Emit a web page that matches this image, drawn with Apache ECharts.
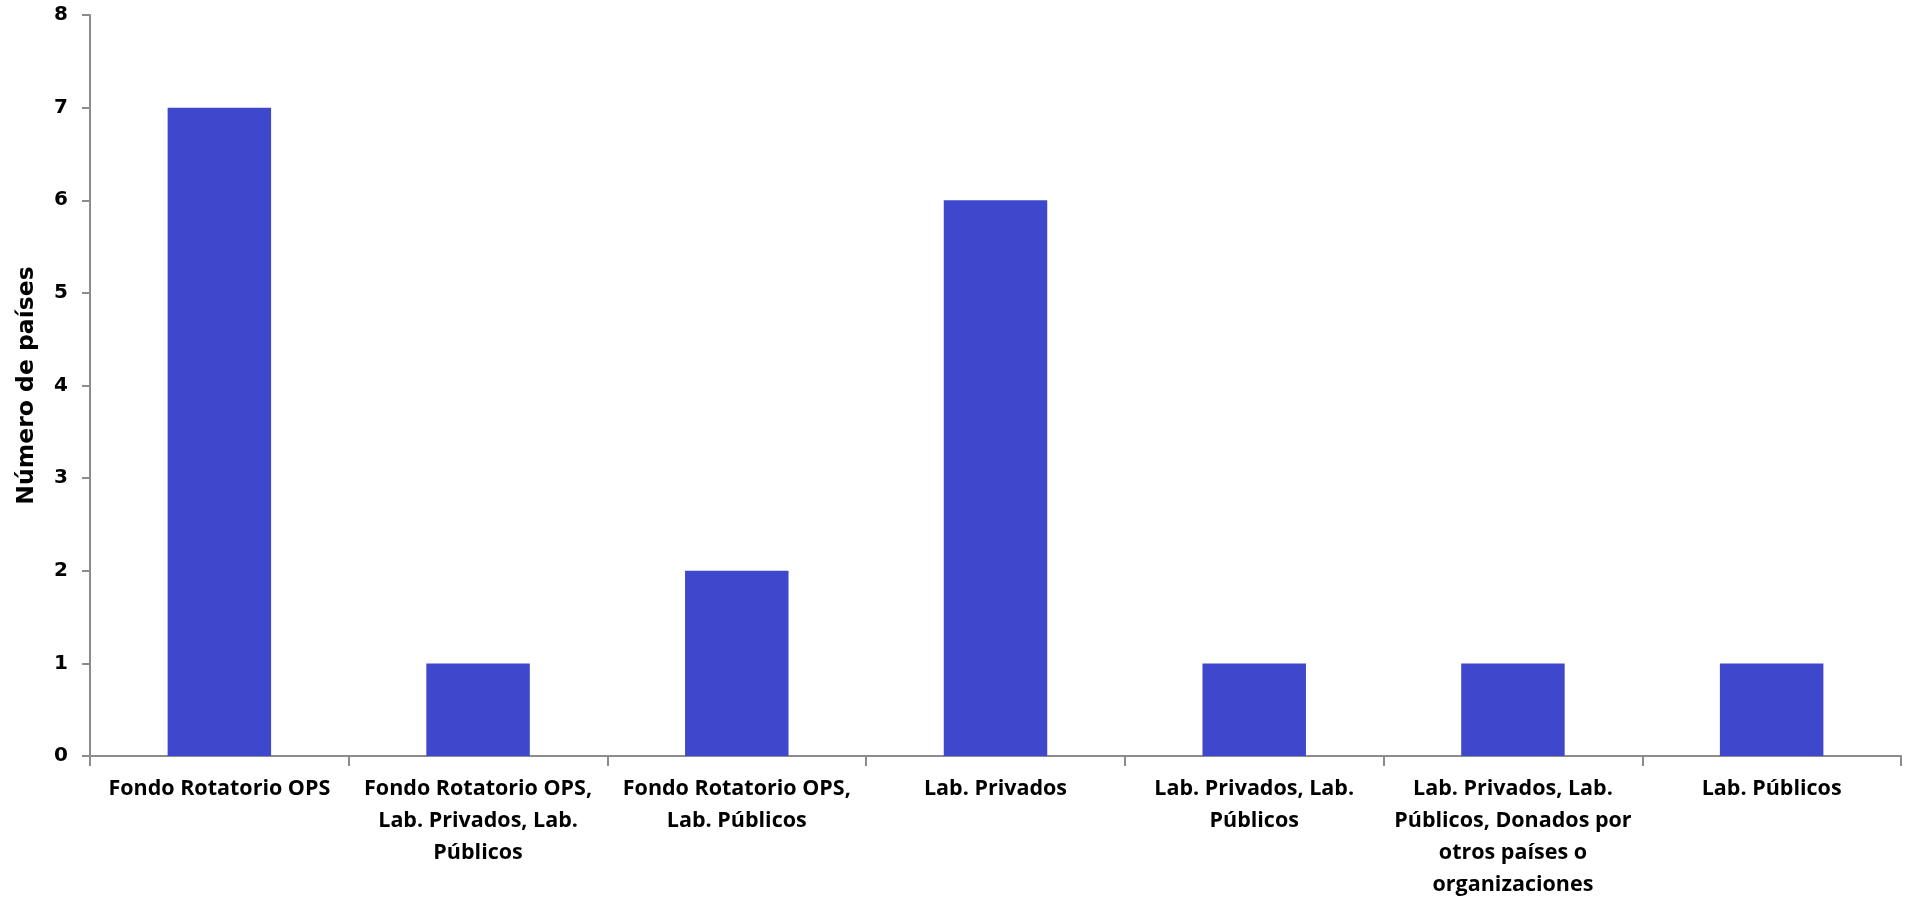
<!DOCTYPE html>
<html><head><meta charset="utf-8">
<script src="https://cdn.jsdelivr.net/npm/echarts@6/dist/echarts.min.js"></script>
<style>html,body{margin:0;padding:0;background:#fff}#c{width:1907px;height:900px}</style>
</head><body><div id="c"></div>
<script>
const categories = [
  "Fondo Rotatorio OPS",
  "Fondo Rotatorio OPS,\nLab. Privados, Lab.\nPúblicos",
  "Fondo Rotatorio OPS,\nLab. Públicos",
  "Lab. Privados",
  "Lab. Privados, Lab.\nPúblicos",
  "Lab. Privados, Lab.\nPúblicos, Donados por\notros países o\norganizaciones",
  "Lab. Públicos"
];
const values = [7, 1, 2, 6, 1, 1, 1];
const yTitle = "Número de países";

const chart = echarts.init(document.getElementById('c'));
const font = "'Open Sans', 'Noto Sans', sans-serif";
const font2 = "'DejaVu Sans', sans-serif";
chart.setOption({
  animation: false,
  grid: { left: 90, right: 6, top: 15, bottom: 144, containLabel: false, outerBoundsMode: 'none' },
  xAxis: {
    type: 'category',
    data: categories,
    axisLine: { lineStyle: { color: '#8c8c8c', width: 2 } },
    axisTick: { show: true, length: 10, lineStyle: { color: '#8c8c8c', width: 2 } },
    axisLabel: { interval: 0, color: '#000', fontWeight: 'bold', fontSize: 21.5, fontFamily: font, lineHeight: 32, margin: 17 }
  },
  yAxis: {
    type: 'value', min: 0, max: 8, interval: 1,
    name: yTitle, nameLocation: 'middle', nameGap: 51,
    nameTextStyle: { color: '#000', fontWeight: 'bold', fontSize: 23.5, fontFamily: font2 },
    axisLine: { show: true, lineStyle: { color: '#8c8c8c', width: 2 } },
    axisTick: { show: true, length: 8, lineStyle: { color: '#8c8c8c', width: 2 } },
    splitLine: { show: false },
    axisLabel: { color: '#000', fontWeight: 'bold', fontSize: 20, fontFamily: font2, margin: 22 }
  },
  series: [{
    type: 'bar', data: values, barWidth: '40%',
    itemStyle: { color: '#3F48CC' }
  }]
});
</script></body></html>
